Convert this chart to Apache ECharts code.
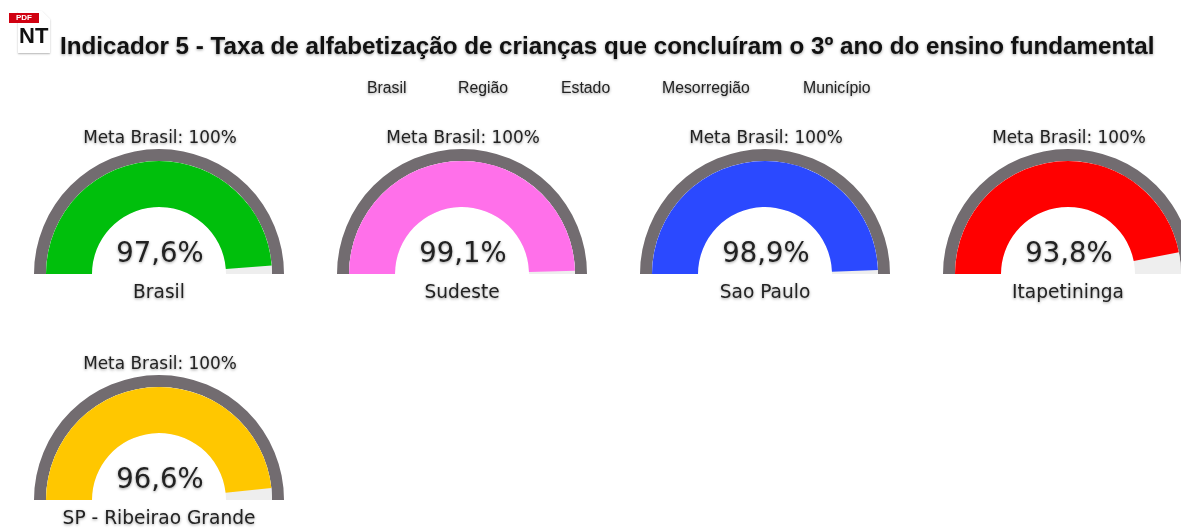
<!DOCTYPE html>
<html><head><meta charset="utf-8">
<style>html,body{margin:0;padding:0;background:#fff;overflow:hidden}#c{width:1181px;height:528px;filter:blur(0.55px)}</style>
<script src="https://cdn.jsdelivr.net/npm/echarts@6/dist/echarts.min.js"></script>
</head><body><div id="c"></div>
<script>
const titleText = 'Indicador 5 - Taxa de alfabetização de crianças que concluíram o 3º ano do ensino fundamental';
const levels = ['Brasil', 'Região', 'Estado', 'Mesorregião', 'Município'];
const levelX = [367, 458, 561, 662, 803];
const categories = ['Brasil', 'Sudeste', 'Sao Paulo', 'Itapetininga', 'SP - Ribeirao Grande'];
const values = [97.6, 99.1, 98.9, 93.8, 96.6];
const colors = ['#00BF0C', '#FF70EA', '#2B49FF', '#FF0000', '#FFC700'];
const goalLabel = 'Meta Brasil: 100%';
const centersX = [159, 462, 765, 1068, 159];
const centersY = [274, 274, 274, 274, 500];
const R = 125, ringW = 12, fillR = 113, fillW = 46;
const shadow = {textShadowColor: 'rgba(0,0,0,0.4)', textShadowBlur: 3, textShadowOffsetY: 1};
const font = '"DejaVu Sans", sans-serif';

const series = [], titles = [];
titles.push({text: titleText, left: 60, top: 35, padding: 0, textStyle: {fontFamily: '"Liberation Sans", Arial', fontSize: 24.2, fontWeight: 'bold', color: '#111', ...shadow}});
levels.forEach((t, i) => titles.push({text: t, left: levelX[i], top: 81, padding: 0, textStyle: {fontFamily: '"Liberation Sans", Arial', fontSize: 15.8, fontWeight: 'normal', color: '#222', ...shadow}}));
categories.forEach((name, i) => {
  const center = [centersX[i], centersY[i]];
  const base = {type: 'gauge', center, startAngle: 180, endAngle: 0, min: 0, max: 100, silent: true, animation: false,
    pointer: {show: false}, axisTick: {show: false}, splitLine: {show: false}, axisLabel: {show: false}};
  series.push({...base, radius: R, axisLine: {lineStyle: {width: ringW, color: [[1, '#726C70']]}},
    progress: {show: false}, title: {show: false}, detail: {show: false}, data: [{value: 100}]});
  series.push({...base, radius: fillR, axisLine: {lineStyle: {width: fillW, color: [[1, '#EEEEEE']]}},
    progress: {show: true, width: fillW, roundCap: false, itemStyle: {color: colors[i]}},
    title: {show: true, offsetCenter: [0, 19], fontFamily: font, fontSize: 18.6, color: '#222', ...shadow},
    detail: {show: true, valueAnimation: false, offsetCenter: [1, -19], fontFamily: font, fontSize: 27.5, fontWeight: 'normal', color: '#222', ...shadow,
      formatter: v => v.toFixed(1).replace('.', ',') + '%'},
    data: [{value: values[i], name}]});
  titles.push({text: goalLabel, left: center[0] + 1, top: center[1] - 144, padding: 0, textAlign: 'center',
    textStyle: {fontFamily: font, fontSize: 16.9, fontWeight: 'normal', color: '#222', ...shadow}});
});
const chart = echarts.init(document.getElementById('c'));
chart.setOption({backgroundColor: '#fff', animation: false, title: titles, series,
  graphic: [
    {type: 'polygon', shape: {points: [[18, 11], [42, 11], [50, 19], [50, 53], [18, 53]]}, style: {fill: '#fff', shadowColor: 'rgba(0,0,0,0.3)', shadowBlur: 2, shadowOffsetY: 1}},
    {type: 'rect', shape: {x: 9, y: 13, width: 30, height: 10}, style: {fill: '#D00010'}},
    {type: 'text', style: {x: 16, y: 14, text: 'PDF', fontFamily: '"Liberation Sans"', fontWeight: 'bold', fontSize: 8, fill: '#fff'}},
    {type: 'text', style: {x: 19, y: 26, text: 'NT', fontFamily: '"Liberation Sans"', fontWeight: 'bold', fontSize: 22, fill: '#111'}}
  ]});
</script></body></html>
